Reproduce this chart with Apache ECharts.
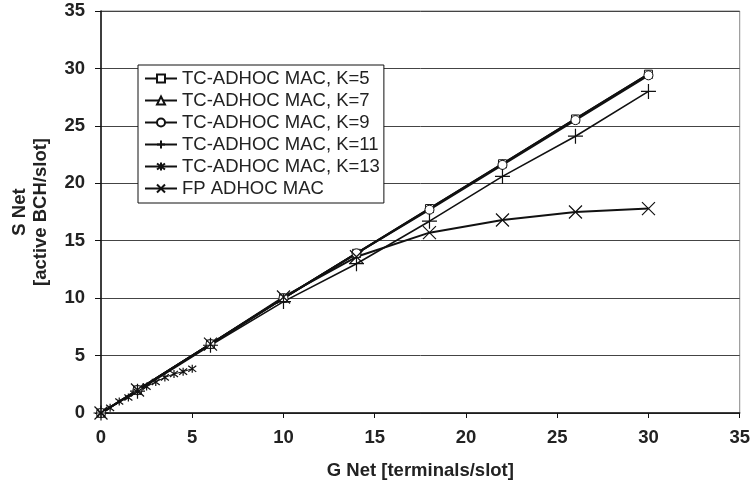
<!DOCTYPE html>
<html>
<head>
<meta charset="utf-8">
<script src="https://cdn.jsdelivr.net/npm/echarts@6/dist/echarts.min.js"></script>
<style>html,body{margin:0;padding:0;background:#fff;}#c{width:753px;height:495px;}</style>
</head>
<body>
<div id="c"></div>
<script>
// ---- data ----
var xMain = [0, 2, 6, 10, 14, 18, 22, 26, 30];
var k5  = [0, 2.0, 6.0, 10.0, 13.9, 17.8, 21.7, 25.6, 29.5];
var k7  = [0, 2.0, 6.0, 10.0, 13.9, 17.8, 21.7, 25.6, 29.5];
var k9  = [0, 2.0, 6.0, 10.0, 13.9, 17.7, 21.6, 25.5, 29.4];
var k11 = [0, 1.9, 5.9, 9.7, 13.0, 16.7, 20.6, 24.1, 28.0];
var xK13 = [0, 0.5, 1, 1.5, 2, 2.5, 3, 3.5, 4, 4.5, 5];
var k13 = [0, 0.45, 1.0, 1.35, 1.85, 2.3, 2.7, 3.1, 3.4, 3.6, 3.85];
var fp  = [0, 2.0, 6.0, 10.1, 13.6, 15.7, 16.8, 17.5, 17.8];
var seriesNames = ['TC-ADHOC MAC, K=5', 'TC-ADHOC MAC, K=7', 'TC-ADHOC MAC, K=9',
                   'TC-ADHOC MAC, K=11', 'TC-ADHOC MAC, K=13', 'FP ADHOC MAC'];

function pairs(xs, ys) { return xs.map(function (x, i) { return [x, ys[i]]; }); }

var PLUS = 'path://M0,5L10,5M5,0L5,10';
var CROSS = 'path://M0,0L10,10M10,0L0,10';
var STAR = 'path://M0,0L10,10M10,0L0,10M5,-1.5L5,11.5';

var open = { color: '#fff', borderColor: '#111', borderWidth: 1 };
var stroke = { color: 'transparent', borderColor: '#111', borderWidth: 1.2 };

var chart = echarts.init(document.getElementById('c'), null, { renderer: 'canvas' });
var font = 'Liberation Sans, Arial, Helvetica, sans-serif';
var FS = 18.5;

function mk(name, data, symbol, size, style, lw) {
  return {
    name: name, type: 'line', data: data, symbol: symbol, symbolSize: size,
    showAllSymbol: true, animation: false, z: 3,
    lineStyle: { color: '#111', width: lw },
    itemStyle: style
  };
}

chart.setOption({
  backgroundColor: '#fff',
  animation: false,
  textStyle: { fontFamily: font },
  grid: { left: 101, right: 12, top: 11, bottom: 82, show: true, borderColor: '#888', borderWidth: 1, containLabel: false },
  xAxis: {
    type: 'value', min: 0, max: 35, interval: 5,
    axisLine: { show: true, onZero: false, lineStyle: { color: '#111', width: 1.5 } },
    axisTick: { show: true, inside: false, length: 5, lineStyle: { color: '#111' } },
    splitLine: { show: false },
    axisLabel: { fontFamily: font, fontSize: FS, fontWeight: 'bold', color: '#222', margin: 15 },
    name: 'G Net [terminals/slot]', nameLocation: 'middle', nameGap: 48,
    nameTextStyle: { fontFamily: font, fontSize: FS, fontWeight: 'bold', color: '#222' }
  },
  yAxis: {
    type: 'value', min: 0, max: 35, interval: 5,
    axisLine: { show: true, onZero: false, lineStyle: { color: '#111', width: 1.5 } },
    axisTick: { show: true, inside: false, length: 6, lineStyle: { color: '#111' } },
    splitLine: { show: true, lineStyle: { color: '#444', width: 1 } },
    axisLabel: { fontFamily: font, fontSize: FS, fontWeight: 'bold', color: '#222', margin: 16 },
    name: 'S Net\n[active BCH/slot]', nameLocation: 'middle', nameGap: 50, nameRotate: 90,
    nameTextStyle: { fontFamily: font, fontSize: FS, fontWeight: 'bold', color: '#222', lineHeight: 21 }
  },
  legend: {
    orient: 'vertical', left: 138, top: 65,
    backgroundColor: '#fff', borderColor: '#111', borderWidth: 1,
    padding: [3, 4, 4, 6], itemGap: 1, itemWidth: 32, itemHeight: 10,
    textStyle: { fontFamily: font, fontSize: FS, color: '#222', lineHeight: 21 },
    data: seriesNames
  },
  series: [
    mk(seriesNames[0], pairs(xMain, k5), 'rect', 8, open, 2),
    mk(seriesNames[1], pairs(xMain, k7), 'triangle', 8, open, 2),
    mk(seriesNames[2], pairs(xMain, k9), 'circle', 9, open, 2),
    mk(seriesNames[3], pairs(xMain, k11), PLUS, 15, stroke, 1.6),
    mk(seriesNames[4], pairs(xK13, k13), STAR, 8, stroke, 1),
    mk(seriesNames[5], pairs(xMain, fp), CROSS, 13, stroke, 2)
  ]
});
</script>
</body>
</html>
